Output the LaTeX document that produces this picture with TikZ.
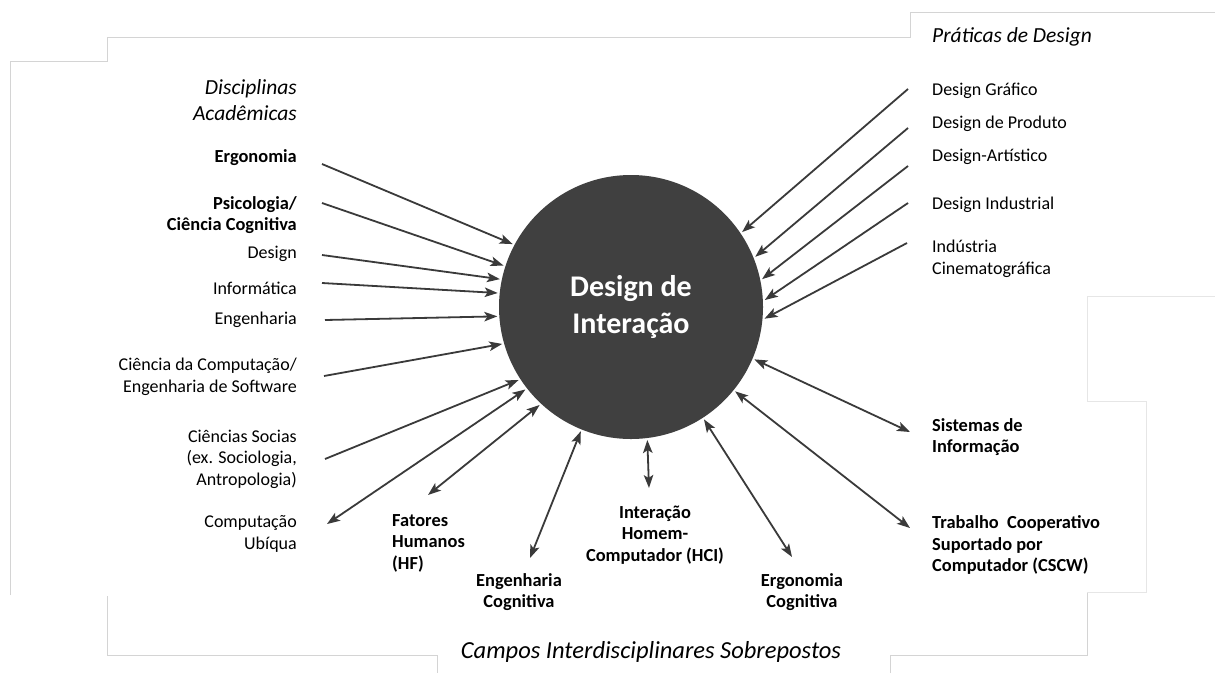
\documentclass[tikz,border=0pt]{standalone}
\usepackage{fontspec}
\setmainfont{Carlito}
\usetikzlibrary{arrows.meta}
\definecolor{disk}{RGB}{64,64,64}
\definecolor{arrowc}{RGB}{58,58,58}
\definecolor{framec}{RGB}{212,212,212}
\definecolor{framelt}{RGB}{230,230,230}
\tikzset{
  lbl/.style={inner sep=0pt, font=\fontsize{18}{21.5}\selectfont},
  lblb/.style={inner sep=0pt, font=\fontsize{18.4}{21.5}\selectfont\bfseries},
  head/.style={inner sep=0pt, font=\fontsize{21.5}{26}\selectfont\itshape},
  tip/.tip={Stealth[length=13pt,width=9.5pt,inset=3pt]},
  arr/.style={draw=arrowc, line width=1.8pt, -tip},
  darr/.style={draw=arrowc, line width=1.8pt, tip-tip},
  frm/.style={draw=framec, line width=1pt},
  frmlt/.style={draw=framelt, line width=1pt},
}
\begin{document}
\begin{tikzpicture}[x=1pt,y=-1pt]
\useasboundingbox[fill=white] (0,0) rectangle (1215,673);
% frame fragments
\draw[frm] (10,595) -- (10,61) -- (107,61) -- (107,37) -- (910,37) -- (910,12) -- (1215,12);
\draw[frm] (107,596) -- (107,655) -- (437,655) -- (437,673);
\draw[frm] (890,673) -- (890,655) -- (1087,655) -- (1087,592);
\draw[frmlt] (1087,592) -- (1146,592) -- (1146,401) -- (1087,401) -- (1087,296) -- (1215,296);

% central disk
\node[circle, fill=disk, minimum size=264pt, inner sep=0pt, outer sep=2pt,
      text=white, align=center, font=\fontsize{30}{37}\selectfont\bfseries] (c) at (631,307) {Design de\\Interação};

% left column
\node[head, anchor=east, align=right] (hdA) at (297,100) {Disciplinas\\Acadêmicas};
\node[lblb, anchor=east, align=right] (l1) at (297,158) {Ergonomia};
\node[lblb, anchor=east, align=right] (l2) at (297,215) {Psicologia/\\Ciência Cognitiva};
\node[lbl, anchor=east, align=right] (l3) at (297,254) {Design};
\node[lbl, anchor=east, align=right] (l4) at (297,288) {Informática};
\node[lbl, anchor=east, align=right] (l5) at (297,320) {Engenharia};
\node[lbl, anchor=east, align=right] (l6) at (297,377) {Ciência da Computação/\\Engenharia de Software};
\node[lbl, anchor=east, align=right] (l7) at (297,459) {Ciências Socias\\(ex. Sociologia,\\Antropologia)};
\node[lbl, anchor=east, align=right] (l8) at (297,534) {Computação\\Ubíqua};

% right column
\node[head, anchor=west, align=left] (hdP) at (932,37) {Práticas de Design};
\node[lbl, anchor=west, align=left] (r1) at (932,91) {Design Gráfico};
\node[lbl, anchor=west, align=left] (r2) at (932,124) {Design de Produto};
\node[lbl, anchor=west, align=left] (r3) at (932,157) {Design-Artístico};
\node[lbl, anchor=west, align=left] (r4) at (932,205) {Design Industrial};
\node[lbl, anchor=west, align=left] (r5) at (932,259) {Indústria\\Cinematográfica};
\node[lblb, anchor=west, align=left] (r6) at (932,437) {Sistemas de\\Informação};
\node[lblb, anchor=west, align=left] (r7) at (932,545) {Trabalho\ \ Cooperativo\\Suportado por\\Computador (CSCW)};

% bottom
\node[lblb, anchor=west, align=left] (b1) at (392,543) {Fatores\\Humanos\\(HF)};
\node[lblb, align=center] (b2) at (519,592) {Engenharia\\Cognitiva};
\node[lblb, align=center] (b3) at (655,535) {Interação\\Homem-\\Computador (HCI)};
\node[lblb, align=center] (b4) at (802,592) {Ergonomia\\Cognitiva};
\node[inner sep=0pt, font=\fontsize{24.5}{29}\selectfont\itshape] (hdC) at (651,652) {Campos Interdisciplinares Sobrepostos};

% free ends of connectors
\coordinate (s1) at (322,164);
\coordinate (s2) at (322,203);
\coordinate (s3) at (322,255);
\coordinate (s4) at (322,283);
\coordinate (s5) at (325,320);
\coordinate (s6) at (324,376);
\coordinate (s7) at (325,459);
\coordinate (s8) at (327,524);
\coordinate (s9) at (428,495);
\coordinate (s10) at (530,558);
\coordinate (s11) at (649,488);
\coordinate (s12) at (792,557);
\coordinate (s13) at (910,432);
\coordinate (s14) at (910,528);
\coordinate (t1) at (908,89);
\coordinate (t2) at (908,128);
\coordinate (t3) at (908,166);
\coordinate (t4) at (908,203);
\coordinate (t5) at (907,243);

% connectors
\draw[arr] (s1) -- (c.152.5);
\draw[arr] (s2) -- (c.162);
\draw[arr] (s3) -- (c.168.2);
\draw[arr] (s4) -- (c.174.9);
\draw[arr] (s5) -- (c.184.3);
\draw[arr] (s6) -- (c.196.9);
\draw[arr] (s7) -- (c.213);
\draw[darr] (s8) -- (c.218.9);
\draw[darr] (s9) -- (c.227.1);
\draw[darr] (s10) -- (c.248.3);
\draw[darr] (s11) -- (c.277.8);
\draw[darr] (s12) -- (c.303.9);
\draw[darr] (s13) -- (c.337.6);
\draw[darr] (s14) -- (c.321.9);
\draw[arr] (t1) -- (c.34);
\draw[arr] (t2) -- (c.22.8);
\draw[arr] (t3) -- (c.12.1);
\draw[arr] (t4) -- (c.3.9);
\draw[arr] (t5) -- (c.355.3);
\end{tikzpicture}
\end{document}
